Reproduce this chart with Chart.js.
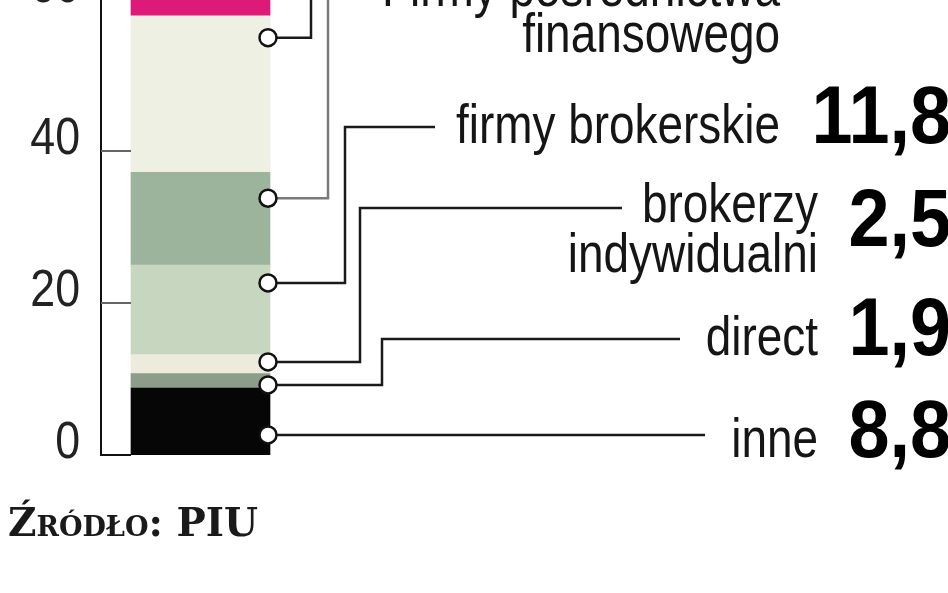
<!DOCTYPE html>
<html>
<head>
<meta charset="utf-8">
<script src="https://cdn.jsdelivr.net/npm/chart.js@4.4.0/dist/chart.umd.min.js"></script>
<style>
  html, body { margin: 0; padding: 0; background: #fff; overflow: hidden; }
  body { width: 948px; height: 593px; position: relative; }
  #chart { position: absolute; left: 0; top: -40px; }
  #source {
    position: absolute; left: 8px; top: 503px;
    font-family: "DejaVu Serif", serif; font-size: 39px; line-height: 39px; font-weight: bold;
    font-variant: small-caps; color: #1a1a1a;
  }
</style>
</head>
<body>
<canvas id="chart" width="948" height="640"></canvas>
<div id="source">Źródło: PIU</div>
<script>
// segmenty słupka od dołu (udział w %)
const categories = ['inne', 'direct', 'brokerzy indywidualni', 'firmy brokerskie', 'Firmy pośrednictwa finansowego', '', ''];
const shares = [8.8, 1.9, 2.5, 11.8, 12.2, 20.6, 3.0];
const labelLines = [['inne'], ['direct'], ['brokerzy', 'indywidualni'], ['firmy brokerskie'], ['Firmy pośrednictwa', 'finansowego'], [], []];
const showValue = [true, true, true, true, false, false, false];
const yTicks = [0, 20, 40, 60];
const colors = ['#060606', '#8c9e8a', '#ecebdc', '#c7d6bf', '#9cb49b', '#eef0e3', '#dd1a78'];

const OFF = 40; // przesunięcie canvasu w górę
const NARROW = 0.82; // zwężenie kroju (jak Arial Narrow)
// rozmieszczenie opisów (px w oknie)
const leaders = [
  { frac: 0.30, elbow: null, lineY: null, endX: 705, textY: [457], textR: 818, valY: 457 },
  { frac: 0.22, elbow: 382, lineY: 339, endX: 680, textY: [355], textR: 818, valY: 355 },
  { frac: 0.62, elbow: 360, lineY: 208, endX: 622, textY: [222, 272], textR: 818, valY: 246 },
  { frac: 0.80, elbow: 345, lineY: 127, endX: 435, textY: [143], textR: 780, valY: 143 },
  { frac: 0.72, elbow: 328, lineY: -6, endX: 352, textY: [6, 52], textR: 780, valY: null, grey: true },
  { frac: 0.86, elbow: 311, lineY: -60, endX: 340, textY: [], textR: 780, valY: null },
  null
];

const fmt = v => v.toFixed(1).replace('.', ',');

function narrowText(ctx, text, x, y, sx) {
  ctx.save();
  ctx.translate(x, y);
  ctx.scale(sx || NARROW, 1);
  ctx.fillText(text, 0, 0);
  ctx.restore();
}

const overlay = {
  id: 'overlay',
  afterDatasetsDraw(chart) {
    const ctx = chart.ctx;
    const y = chart.scales.y;
    const area = chart.chartArea;
    const bar = chart.getDatasetMeta(0).data[0];
    const barL = bar.x - bar.width / 2;
    const barR = bar.x + bar.width / 2;
    ctx.save();
    ctx.textAlign = 'right';
    ctx.textBaseline = 'alphabetic';

    // krótkie kreski podziałki i opisy osi
    y.ticks.forEach(t => {
      const py = y.getPixelForValue(t.value);
      ctx.strokeStyle = t.value === 0 ? '#111' : '#666';
      ctx.lineWidth = 2;
      ctx.beginPath();
      ctx.moveTo(area.left, py);
      ctx.lineTo(barL, py);
      ctx.stroke();
      ctx.fillStyle = '#222';
      ctx.font = '52px "Liberation Sans", Arial, sans-serif';
      narrowText(ctx, String(t.value), 80, py + 3, 0.86);
    });

    // linie odniesienia, kółka, opisy
    let base = 0;
    const circles = [];
    shares.forEach((v, i) => {
      const L = leaders[i];
      if (L) {
        const cy = y.getPixelForValue(base + v * L.frac);
        const cx = barR - 2;
        ctx.strokeStyle = L.grey ? '#7a7a7a' : '#1a1a1a';
        ctx.lineWidth = 2.5;
        ctx.beginPath();
        ctx.moveTo(cx, cy);
        if (L.elbow === null) {
          ctx.lineTo(L.endX, cy);
        } else {
          ctx.lineTo(L.elbow, cy);
          ctx.lineTo(L.elbow, L.lineY + OFF);
          ctx.lineTo(L.endX, L.lineY + OFF);
        }
        ctx.stroke();
        circles.push([cx, cy]);

        ctx.fillStyle = '#151515';
        ctx.font = '56px "Liberation Sans", Arial, sans-serif';
        labelLines[i].forEach((line, k) => narrowText(ctx, line, L.textR, L.textY[k] + OFF));
        if (showValue[i] && L.valY !== null) {
          ctx.fillStyle = '#000';
          ctx.font = 'bold 82px "Liberation Sans", Arial, sans-serif';
          narrowText(ctx, fmt(v), 951, L.valY + OFF, 0.9);
        }
      }
      base += v;
    });
    circles.forEach(([cx, cy]) => {
      ctx.beginPath();
      ctx.arc(cx, cy, 8.5, 0, Math.PI * 2);
      ctx.fillStyle = '#fff';
      ctx.fill();
      ctx.strokeStyle = '#111';
      ctx.lineWidth = 2.5;
      ctx.stroke();
    });
    ctx.restore();
  }
};

new Chart(document.getElementById('chart'), {
  type: 'bar',
  data: {
    labels: [''],
    datasets: shares.map((v, i) => ({
      label: categories[i],
      data: [v],
      backgroundColor: colors[i],
      borderWidth: 0,
      barThickness: 139
    }))
  },
  options: {
    responsive: false,
    animation: false,
    devicePixelRatio: 1,
    layout: { padding: { top: OFF - 1, bottom: 640 - (455 + OFF), left: 0, right: 648 } },
    plugins: { legend: { display: false }, tooltip: { enabled: false } },
    scales: {
      x: { stacked: true, display: false },
      y: {
        stacked: true,
        min: 0,
        max: 60,
        afterBuildTicks: s => { s.ticks = yTicks.map(v => ({ value: v })); },
        afterFit: s => { s.width = 101; },
        ticks: { display: false },
        grid: { display: false, drawTicks: false },
        border: { display: true, color: '#111', width: 2 }
      }
    }
  },
  plugins: [overlay]
});
</script>
</body>
</html>
